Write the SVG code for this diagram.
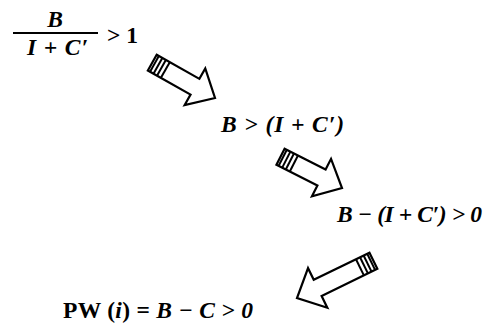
<svg xmlns="http://www.w3.org/2000/svg" width="486" height="324" viewBox="0 0 486 324">
<style>
text{font-family:"Liberation Serif","Times New Roman",serif;font-weight:bold;font-size:23.5px;fill:#000}
.it{font-style:italic}
.up{font-style:normal}
.arr{fill:#fff;stroke:#000;stroke-width:2.2;stroke-linejoin:miter}
.hatch{stroke:#000;stroke-width:2}
</style>
<defs>
<g id="cap">
<line class="hatch" x1="2.5" y1="-9" x2="2.5" y2="9"/>
<line class="hatch" x1="6.5" y1="-9" x2="6.5" y2="9"/>
<line class="hatch" x1="10.5" y1="-9" x2="10.5" y2="9"/>
<line class="hatch" x1="15" y1="-9" x2="15" y2="9"/>
</g>
</defs>
<g id="n1">
<text class="it" x="55" y="27" text-anchor="middle">B</text>
<line x1="13" y1="33" x2="98" y2="33" stroke="#000" stroke-width="2.2"/>
<text class="it" x="27" y="55" textLength="61" lengthAdjust="spacing">I + C′</text>
<text class="up" x="107" y="43" textLength="31" lengthAdjust="spacing">&gt; 1</text>
</g>
<g id="n2">
<text class="it" x="221" y="132" textLength="123" lengthAdjust="spacing">B &gt; (I + C′)</text>
</g>
<g id="n3">
<text class="it" x="337" y="222" textLength="145" lengthAdjust="spacing">B − (I + C′) &gt; 0</text>
</g>
<g id="n4">
<text x="63" y="318" textLength="190" lengthAdjust="spacing"><tspan class="up">PW (</tspan><tspan class="it">i</tspan><tspan class="up">) = </tspan><tspan class="it">B − C &gt; 0</tspan></text>
</g>
<g id="connectors">
<g transform="translate(215,98) rotate(29.4)">
<polygon class="arr" points="-72,-9 -23,-9 -23,-21 0,0 -23,21 -23,9 -72,9"/>
<use href="#cap" x="-72"/>
</g>
<g transform="translate(342,188) rotate(27)">
<polygon class="arr" points="-69,-9 -23,-9 -23,-21 0,0 -23,21 -23,9 -69,9"/>
<use href="#cap" x="-69"/>
</g>
<g transform="translate(297,298) rotate(154)">
<polygon class="arr" points="-85,-9 -23,-9 -23,-22 0,0 -23,22 -23,9 -85,9"/>
<use href="#cap" x="-85"/>
</g>
</g>
</svg>
